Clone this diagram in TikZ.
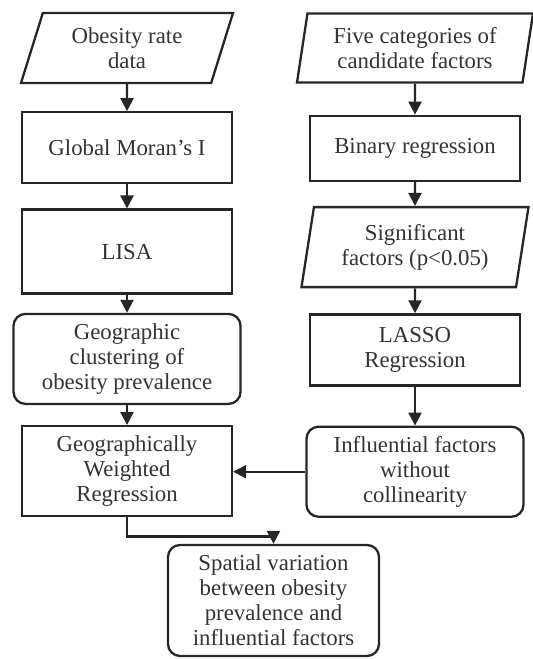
\documentclass[tikz,border=0pt]{standalone}
\usepackage{fontspec}
\setmainfont{Liberation Serif}
\usetikzlibrary{positioning,shapes.geometric,arrows.meta}

\begin{document}
\begin{tikzpicture}[
    >={Triangle[width=6.5pt,length=6.5pt]},
    every node/.style={font=\fontsize{11.4}{12.5}\selectfont, align=center, inner sep=2pt, line width=1.15pt, draw=black!85, text=black!80},
    box/.style={rectangle, minimum width=105pt},
    rbox/.style={rectangle, rounded corners=6pt},
    para/.style={trapezium, trapezium stretches body, trapezium left angle=#1, trapezium right angle=180-#1},
    line/.style={line width=1.15pt, draw=black!85}
  ]
  \useasboundingbox (0,0) rectangle (266.5pt,-329.5pt);

  % left column
  \node[para=66, minimum width=106pt, minimum height=35pt] at (63.5pt,-24pt) (1) {Obesity rate\\data};
  \node[box, below=13.5pt of 1, minimum height=35.5pt] (2) {Global Moran's I};
  \node[box, below=12pt of 2, minimum height=42pt] (3) {LISA};
  \node[rbox, below=9pt of 3, minimum width=113.5pt, minimum height=45pt] (4) {Geographic\\clustering of\\obesity prevalence};
  \node[box, below=10pt of 4, minimum height=45pt] (5) {Geographically\\Weighted\\Regression};

  % right column
  \node[para=78, minimum width=118pt, minimum height=34.5pt] at (207.5pt,-24pt) (6) {Five categories of\\candidate factors};
  \node[box, below=15.5pt of 6, minimum height=32.5pt] (7) {Binary regression};
  \node[para=77, below=12pt of 7, minimum width=113.5pt, minimum height=40pt] (8) {Significant\\factors (p<0.05)};
  \node[box, below=12.5pt of 8, minimum height=35.5pt] (9) {LASSO\\Regression};
  \node[rbox, below=19.5pt of 9, minimum width=108.5pt, minimum height=45pt] (10) {Influential factors\\without\\collinearity};

  \node[rbox, minimum width=105.5pt, minimum height=55.5pt] at (136.75pt,-300.25pt) (11) {Spatial variation\\between obesity\\prevalence and\\influential factors};

  \draw[line,->] (1) -- (2);
  \draw[line,->] (2) -- (3);
  \draw[line,->] (3) -- (4);
  \draw[line,->] (4) -- (5);
  \draw[line,->] (6) -- (7);
  \draw[line,->] (7) -- (8);
  \draw[line,->] (8) -- (9);
  \draw[line,->] (9) -- (10);
  \draw[line,->] (10.west) -- (10.west -| 5.east);
  \draw[line,->] (5.south) -- ++(0,-9.5pt) -| (11.north);
\end{tikzpicture}
\end{document}
